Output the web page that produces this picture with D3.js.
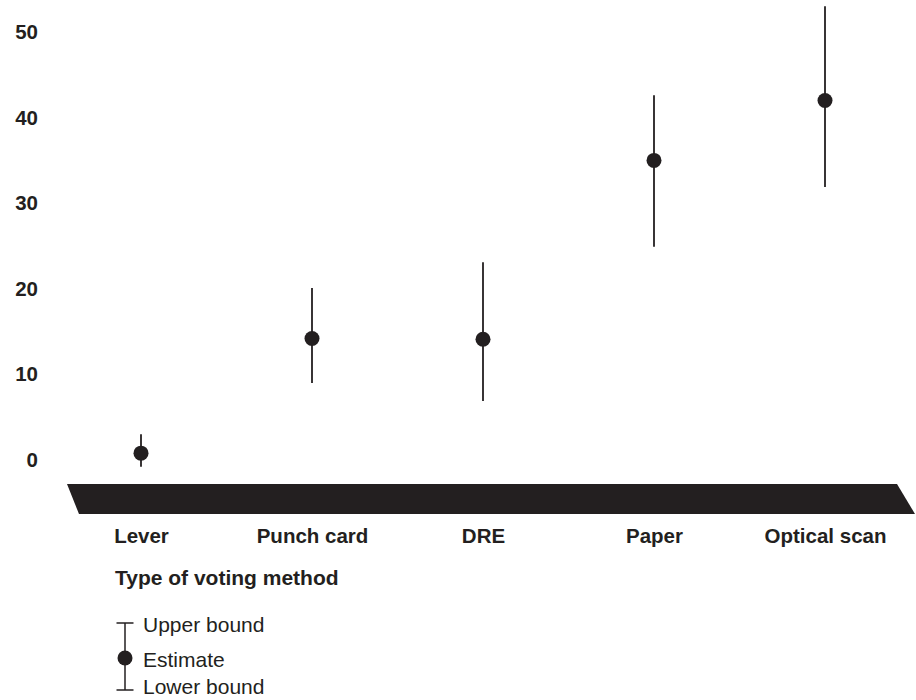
<!DOCTYPE html>
<html><head><meta charset="utf-8">
<script src="https://cdn.jsdelivr.net/npm/d3@7"></script>
<style>body{margin:0;background:#fff;} text{font-family:"Liberation Sans",Arial,sans-serif;}</style>
</head><body>
<svg id="chart" width="916" height="700"></svg>
<script>
const categories = ["Lever", "Punch card", "DRE", "Paper", "Optical scan"];
const estimates = [0.8, 14.2, 14.1, 35.0, 42.0];
const upperBounds = [3.0, 20.1, 23.1, 42.6, 53.0];
const lowerBounds = [-0.8, 9.0, 6.9, 24.9, 31.9];
const yTicks = [0, 10, 20, 30, 40, 50];
const xTitle = "Type of voting method";
const legendLabels = ["Upper bound", "Estimate", "Lower bound"];

const ink = "#231f20";
const svg = d3.select("#chart");
const x = d3.scalePoint().domain(categories).range([141, 825]);
const y = d3.scaleLinear().domain([0, 50]).range([460, 32]);

// y axis labels
const yAxis = d3.axisLeft(y).tickValues(yTicks).tickSize(0).tickPadding(10).tickFormat(d3.format("d"));
const ya = svg.append("g").attr("transform", "translate(48,0)").call(yAxis);
ya.select(".domain").remove();
ya.selectAll("text").attr("font-size", 20.5).attr("font-weight", "bold").attr("fill", ink)
  .style("font-family", "'Liberation Sans',Arial,sans-serif");

// black parallelogram base
svg.append("path")
  .attr("d", "M67,484 L897,484 L915,514 L79,514 Z")
  .attr("fill", ink);

// category labels
const xa = svg.append("g").attr("transform", "translate(0,486)")
  .call(d3.axisBottom(x).tickSize(0).tickPadding(42));
xa.select(".domain").remove();
xa.selectAll("text").attr("font-size", 20.5).attr("font-weight", "bold").attr("fill", ink)
  .style("font-family", "'Liberation Sans',Arial,sans-serif");

// error bars
const data = categories.map((c, i) => ({c, est: estimates[i], hi: upperBounds[i], lo: lowerBounds[i]}));
svg.append("g").selectAll("line").data(data).join("line")
  .attr("x1", d => x(d.c)).attr("x2", d => x(d.c))
  .attr("y1", d => y(d.hi)).attr("y2", d => y(d.lo))
  .attr("stroke", ink).attr("stroke-width", 1.8);
svg.append("g").selectAll("circle").data(data).join("circle")
  .attr("cx", d => x(d.c)).attr("cy", d => y(d.est)).attr("r", 7.5)
  .attr("fill", ink);

// x title
svg.append("text").attr("x", 115).attr("y", 585).text(xTitle)
  .attr("font-size", 21).attr("font-weight", "bold").attr("fill", ink);

// legend
const lg = svg.append("g");
const lx = 125;
lg.append("line").attr("x1", lx).attr("x2", lx).attr("y1", 623).attr("y2", 690).attr("stroke", ink).attr("stroke-width", 1.5);
lg.append("line").attr("x1", lx - 8.5).attr("x2", lx + 8.5).attr("y1", 623).attr("y2", 623).attr("stroke", ink).attr("stroke-width", 1.5);
lg.append("line").attr("x1", lx - 8.5).attr("x2", lx + 8.5).attr("y1", 690).attr("y2", 690).attr("stroke", ink).attr("stroke-width", 1.5);
lg.append("circle").attr("cx", lx).attr("cy", 658).attr("r", 7.5).attr("fill", ink);
const ly = [632, 667, 694];
lg.selectAll("text").data(legendLabels).join("text")
  .attr("x", 143).attr("y", (d, i) => ly[i]).text(d => d)
  .attr("font-size", 21).attr("fill", ink);
</script>
</body></html>
